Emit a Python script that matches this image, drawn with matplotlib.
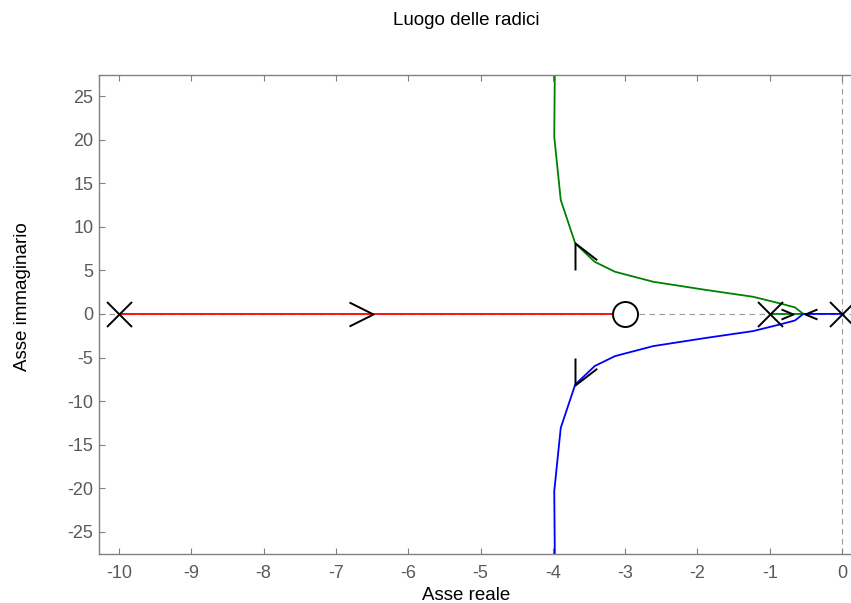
import matplotlib.pyplot as plt
from matplotlib.path import Path

plt.rcParams['font.family'] = ['Liberation Sans', 'DejaVu Sans']
plt.rcParams['axes.unicode_minus'] = False

# Poli e zeri del sistema
poli_x = [-10, -1, 0]
zeri_x = [-3]

# Ramo rosso: asse reale da -10 fino allo zero in -3
rosso_x = [-10, -3]
rosso_y = [0, 0]

# Ramo verde: da -1 al punto di distacco, poi verso l'alto
verde_x = [-1.0, -0.535, -0.65, -0.86, -1.23, -1.87, -2.61, -3.14, -3.42, -3.69, -3.89, -3.98, -3.97]
verde_y = [0, 0, 0.75, 1.21, 1.97, 2.74, 3.69, 4.84, 5.98, 8.10, 13.07, 20.33, 30.0]

# Ramo blu: da 0 al punto di distacco, poi verso il basso
blu_x = [0.0, -0.535, -0.65, -0.86, -1.23, -1.87, -2.61, -3.14, -3.42, -3.69, -3.89, -3.98, -3.97]
blu_y = [0, 0, -0.75, -1.21, -1.97, -2.74, -3.69, -4.84, -5.98, -8.10, -13.07, -20.33, -30.0]

# Frecce di direzione (punta sul luogo)
frecce_x = [-6.49, -3.69, -3.69, -0.68, -0.51]
frecce_y = [0, 8.10, -8.10, 0, 0]
# forma delle frecce in pixel (braccio1, braccio2)
frecce_forma = [
    [(-24, 12), (-24, -12)],
    [(0, -27), (21.7, -16.7)],
    [(0, 27), (21.7, 16.7)],
    [(-12, 5), (-12, -5)],
    [(12, 5), (12, -5)],
]

fig = plt.figure(figsize=(8.51, 6.03), dpi=100)
ax = fig.add_axes([99 / 851, (603 - 554) / 603, 761 / 851, 479 / 603])

# assi tratteggiati
ax.axhline(0, color='#999999', ls=(0, (5, 4)), lw=0.8, zorder=0)
ax.axvline(0, color='#999999', ls=(0, (5, 4)), lw=0.8, zorder=0)

ax.plot(rosso_x, rosso_y, color='red', lw=1.3, zorder=2)
ax.plot(verde_x, verde_y, color='#008000', lw=1.3, zorder=2)
ax.plot(blu_x, blu_y, color='blue', lw=1.3, zorder=2)

for x, y, (a1, a2) in zip(frecce_x, frecce_y, frecce_forma):
    m = max(abs(v) for p in (a1, a2) for v in p)
    path = Path([a1, (0, 0), a2], [Path.MOVETO, Path.LINETO, Path.LINETO])
    ax.plot([x], [y], marker=path, markersize=1.44 * m, mfc='none',
            mec='black', mew=1.4, ls='none', zorder=4)

ax.plot(poli_x, [0] * len(poli_x), ls='none', marker='x', markersize=18,
        mec='black', mew=1.4, zorder=5)
ax.plot(zeri_x, [0] * len(zeri_x), ls='none', marker='o', markersize=18,
        mec='black', mfc='white', mew=1.4, zorder=5)

ax.set_xlim(-10.277, 0.249)
ax.set_ylim(-27.55, 27.42)
ax.set_xticks(range(-10, 1))
ax.set_yticks(range(-25, 26, 5))

for s in ax.spines.values():
    s.set_color('#808080')
    s.set_linewidth(1.0)
ax.tick_params(direction='in', top=True, right=True, length=4, width=0.8,
               color='#808080', labelcolor='#5a5a5a', labelsize=13)
ax.tick_params(axis='x', pad=8)
ax.tick_params(axis='y', pad=4)

ax.set_xlabel('Asse reale', fontsize=13.5)
ax.xaxis.set_label_coords(0.4823, -0.0856)
ax.xaxis.label.set_va('center')
ax.set_ylabel('Asse immaginario', fontsize=13.5)
ax.yaxis.set_label_coords(-0.1, 0.5376)
ax.yaxis.label.set_va('center')
ax.set_title('Luogo delle radici', fontsize=13.5, x=0.4823, y=1.1148,
             va='center', pad=0)

plt.savefig('out.png', dpi=100)
